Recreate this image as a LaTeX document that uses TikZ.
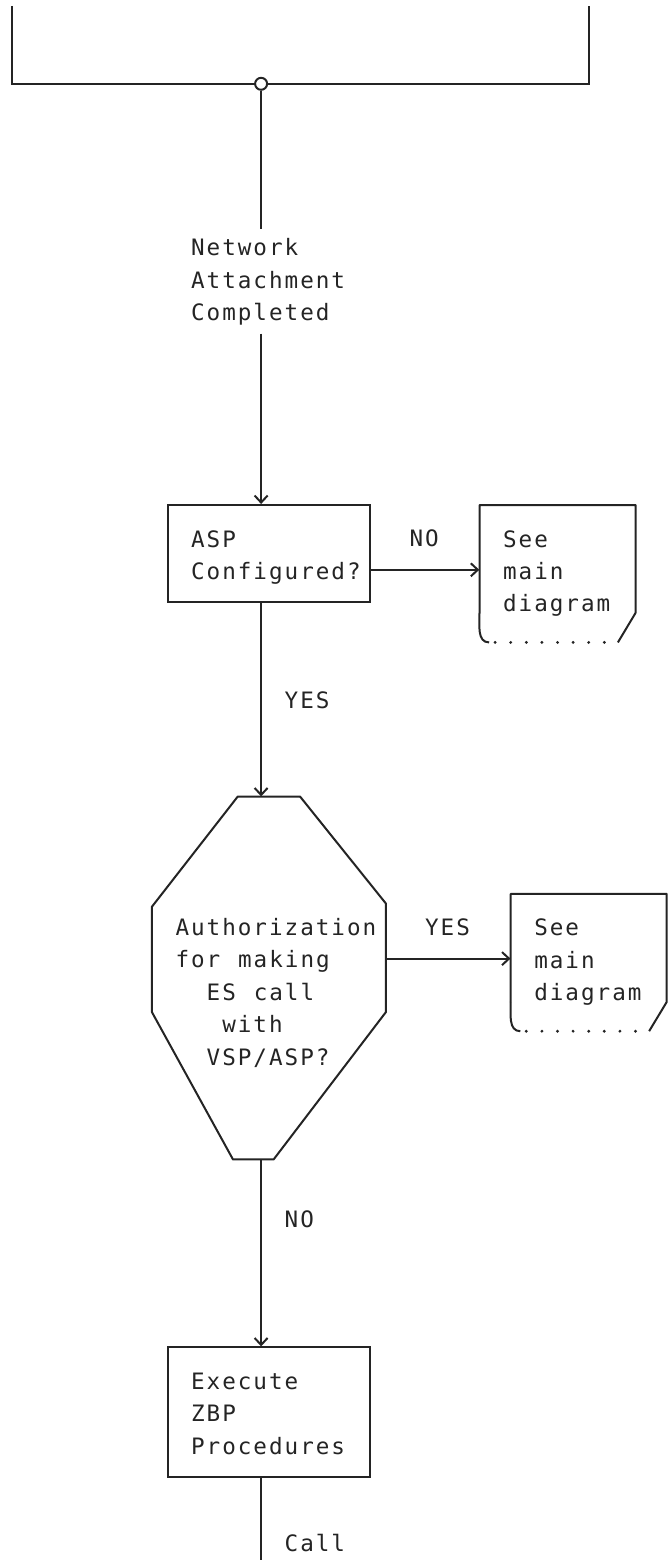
\documentclass[tikz,border=0pt]{standalone}
\usepackage{fontspec}
\usetikzlibrary{arrows.meta,fit}
\newfontfamily\diafont{DejaVu Sans Mono}[LetterSpace=8.8,WordSpace=1.146]
\definecolor{ink}{HTML}{242424}
\begin{document}
\begin{tikzpicture}[x=1pt,y=-1pt,
  declare function={cx(\c)=11.5+15.6*\c; xl(\c)=3.7+15.6*\c; ry(\r)=19+32.4*\r; bl(\r)=28.3+32.4*\r;},
  ln/.style={draw=ink, line width=2pt},
  arr/.style={ln, -{Straight Barb[length=7pt,width=13pt]}},
  box/.style={draw=ink, line width=2pt, inner sep=0pt},
  area/.style={inner sep=0pt},
  dots/.style={draw=ink, line width=3.2pt, line cap=round, dash pattern=on 0pt off 15.6pt},
  txt/.style={font={\diafont\fontsize{22.6pt}{32.4pt}\selectfont}, text=ink, inner sep=0pt, align=left, anchor=north west},
  lbl/.style={font={\diafont\fontsize{22.6pt}{32.4pt}\selectfont}, text=ink, inner sep=0pt, anchor=base west},
  junc/.style={circle, draw=ink, fill=white, line width=2pt, minimum size=12pt, inner sep=0pt}
]
\useasboundingbox (0,0) rectangle (671,1560);

% helper rows
\coordinate (r17) at (0,{ry(17)});
\coordinate (r29) at (0,{ry(29)});

% top (cut) box
\draw[ln] ({cx(0)},6) -- ({cx(0)},{ry(2)}) -- ({cx(37)},{ry(2)}) -- ({cx(37)},6);
\node[junc] (j) at ({cx(16)},{ry(2)}) {};

% Network Attachment Completed
\node[txt] (nac) at ({xl(12)},{bl(7)-16.5}) {Network\\Attachment\\Completed};
\draw[ln, shorten >=10pt] (j.south) -- (j |- nac.north);

% ASP Configured?
\node[box, fit={({cx(10)},{ry(15)}) ({cx(23)},{ry(18)})}] (asp) {};
\node[txt] (asptxt) at ({xl(12)},{bl(16)-16.5}) {ASP\\Configured?};
\draw[arr, shorten <=8pt] (j |- nac.south) -- (j |- asp.north);

% See main diagram (1)
\node[area, fit={({cx(30)},{ry(15)}) ({cx(40)},{ry(19)})}] (see1) {};
\draw[ln, line join=round] (479.5,613) -- ({cx(30)},{ry(15)}) -- ({cx(40)},{ry(15)}) -- ({cx(40)},613) -- ({cx(39)-2},642.4);
\draw[ln] (479.5,613) to[out=-90,in=180] (489.1,642.4);
\draw[dots] ({cx(38)},642.4) -- ({cx(31)-0.5},642.4);
\node[txt] (see1txt) at ({xl(32)},{bl(16)-16.5}) {See\\main\\diagram};
\draw[arr] (asp.east |- r17) -- (see1.west |- r17);
\node[lbl] (no1) at ({xl(26)},{bl(16)}) {NO};

% decision
\node[area, fit={({cx(9)},{ry(24)}) ({cx(24)},{ry(35.2)})}] (dia) {};
\draw[ln, line join=round] ({cx(9)},{ry(27.4)}) -- ({cx(14.5)},{ry(24)}) -- ({cx(18.5)},{ry(24)}) -- ({cx(24)},{ry(27.3)}) -- ({cx(24)},{ry(30.65)}) -- ({cx(16.8)},{ry(35.2)}) -- ({cx(14.2)},{ry(35.2)}) -- ({cx(9)},{ry(30.65)}) -- cycle;
\node[lbl] (d1) at ({xl(11)},{bl(28)}) {Authorization};
\node[lbl] (d2) at ({xl(11)},{bl(29)}) {for making};
\node[lbl] (d3) at ({xl(13)},{bl(30)}) {ES call};
\node[lbl] (d4) at ({xl(14)},{bl(31)}) {with};
\node[lbl] (d5) at ({xl(13)},{bl(32)}) {VSP/ASP?};
\draw[arr] (j |- asp.south) -- (j |- dia.north);
\node[lbl] (yes1) at ({xl(18)},{bl(21)}) {YES};

% See main diagram (2)
\node[area, fit={({cx(32)},{ry(27)}) ({cx(42)},{ry(31)})}] (see2) {};
\draw[ln, line join=round] (510.7,1002) -- ({cx(32)},{ry(27)}) -- ({cx(42)},{ry(27)}) -- ({cx(42)},1002) -- ({cx(41)-2},1031.2);
\draw[ln] (510.7,1002) to[out=-90,in=180] (520.3,1031.2);
\draw[dots] ({cx(40)},1031.2) -- ({cx(33)-0.5},1031.2);
\node[txt] (see2txt) at ({xl(34)},{bl(28)-16.5}) {See\\main\\diagram};
\draw[arr] (dia.east |- r29) -- (see2.west |- r29);
\node[lbl] (yes2) at ({xl(27)},{bl(28)}) {YES};

% Execute ZBP Procedures
\node[box, fit={({cx(10)},{ry(41)}) ({cx(23)},{ry(45)})}] (ex) {};
\node[txt] (extxt) at ({xl(12)},{bl(42)-16.5}) {Execute\\ZBP\\Procedures};
\draw[arr] (j |- dia.south) -- (j |- ex.north);
\node[lbl] (no2) at ({xl(18)},{bl(37)}) {NO};

% Call
\coordinate (callend) at ({cx(16)},1562);
\draw[ln] (j |- ex.south) -- (callend);
\node[lbl] (call) at ({xl(18)},{bl(47)}) {Call};
\end{tikzpicture}
\end{document}
